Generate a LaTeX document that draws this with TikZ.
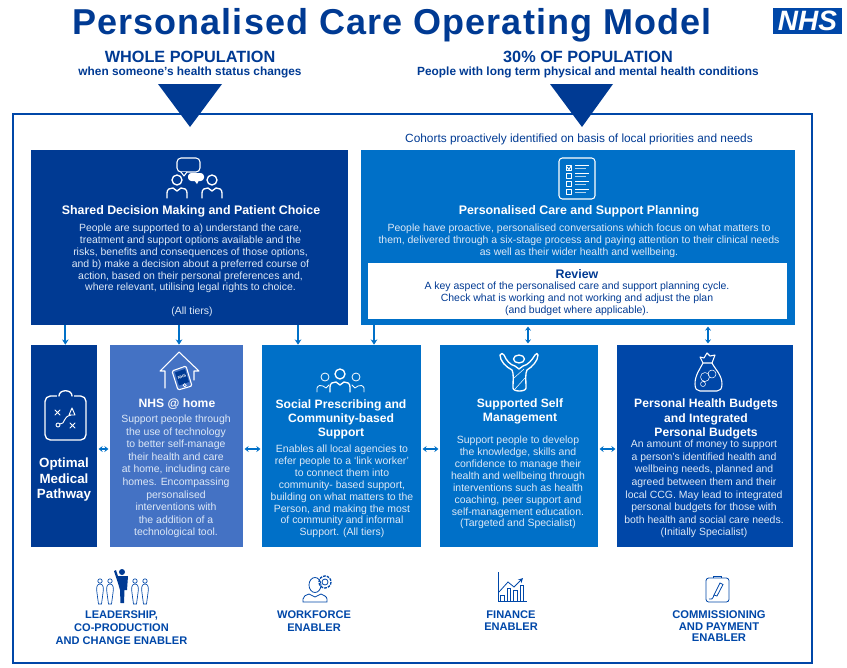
\documentclass[tikz,border=0pt]{standalone}
\usepackage{fontspec}
\setmainfont{Liberation Sans}
\usetikzlibrary{fit,arrows.meta}
\definecolor{nhsdark}{HTML}{003A93}
\definecolor{nhsmid}{HTML}{0070C8}
\definecolor{nhssoft}{HTML}{4472C4}
\definecolor{nhsdeep}{HTML}{0047A8}
\definecolor{bodyblue}{HTML}{DDE8F6}
\begin{document}
\begin{tikzpicture}[x=0.75pt, y=-0.75pt,
  tile/.style={fit={#1}, inner sep=0pt, draw=none},
  head/.style={align=center, inner sep=0pt, text=white, font=\bfseries\fontsize{9.1}{10.6}\selectfont},
  wide head/.style={head, font=\bfseries\fontsize{9.3}{10.6}\selectfont},
  copy/.style={align=center, inner sep=0pt, text=bodyblue, font=\fontsize{7.85}{8.9}\selectfont},
  loose copy/.style={copy, font=\fontsize{7.85}{9.45}\selectfont},
  enabler/.style={align=center, inner sep=0pt, text=nhsdeep, font=\bfseries\fontsize{8.3}{9.7}\selectfont},
  link/.style={draw=nhsmid, line width=1.3pt, -{Stealth[length=4pt,width=5pt]}},
  twoway/.style={draw=nhsmid, line width=1.1pt, {Stealth[length=3pt,width=4.5pt]}-{Stealth[length=3pt,width=4.5pt]},
    shorten >=1pt, shorten <=1pt},
  icon/.style={draw=white, line width=0.8pt, line join=round, line cap=round},
  person/.pic={
    \draw[pic actions] (0,0) circle (5);
    \draw[pic actions] (-10,18) -- (-10,13) .. controls (-10,9) and (-7,8) .. (-4,8)
      -- (0,11) -- (4,8) .. controls (7,8) and (10,9) .. (10,13) -- (10,18);
  },
  pillman/.pic={
    \draw[pic actions] (0,-4) circle (2.2);
    \draw[pic actions] (-3,8) .. controls (-4,2) and (-3,-1) .. (0,-1)
      .. controls (3,-1) and (4,2) .. (3,8) -- (1.5,19) -- (-1.5,19) -- cycle;
  }]
  \useasboundingbox (0,0) rectangle (847,668);

  \draw[nhsdeep, line width=1.1pt] (13,114) rectangle (812,663);
  \node[anchor=base, inner sep=0pt, text=nhsdark, font=\bfseries\fontsize{27}{30}\selectfont\addfontfeature{LetterSpace=3}] (title) at (392,34)
    {Personalised Care Operating Model};
  \node[fill=nhsdeep, text=white, inner sep=0pt, minimum width=51.75pt, minimum height=19.5pt,
    font=\bfseries\itshape\fontsize{21}{21}\selectfont] (logo) at (807.5,21) {NHS};

  \node[inner sep=0pt, text=nhsdark, font=\bfseries\fontsize{12.2}{14}\selectfont] (whole) at (190,57) {WHOLE POPULATION};
  \node[inner sep=0pt, text=nhsdark, font=\bfseries\fontsize{8.9}{10}\selectfont] (whole sub) at (190,72)
    {when someone’s health status changes};
  \node[inner sep=0pt, text=nhsdark, font=\bfseries\fontsize{12.2}{14}\selectfont] (thirty) at (588,57) {30\% OF POPULATION};
  \node[inner sep=0pt, text=nhsdark, font=\bfseries\fontsize{8.9}{10}\selectfont] (thirty sub) at (588,72)
    {People with long term physical and mental health conditions};
  \fill[nhsdark] (158,84) -- (222,84) -- (190,127) -- cycle;
  \fill[nhsdark] (550,84) -- (613,84) -- (582,127) -- cycle;
  \node[inner sep=0pt, text=nhsdark, font=\fontsize{8.9}{10}\selectfont] (cohorts) at (579,139)
    {Cohorts proactively identified on basis of local priorities and needs};

  \node[tile={(31,150) (348,325)}, fill=nhsdark] (shared) {};
  \node[tile={(361,150) (795,325)}, fill=nhsmid] (care) {};
  \node[tile={(368,263) (787,319)}, fill=white] (review) {};
  \node[tile={(31,345) (97,547)}, fill=nhsdark] (optimal) {};
  \node[tile={(110,345) (243,547)}, fill=nhssoft] (home) {};
  \node[tile={(262,345) (421,547)}, fill=nhsmid] (social) {};
  \node[tile={(440,345) (598,547)}, fill=nhsmid] (self) {};
  \node[tile={(617,345) (793,547)}, fill=nhsdeep] (budgets) {};

  \draw[link] ([xshift=1pt]optimal.north |- shared.south) -- ([xshift=1pt]optimal.north);
  \draw[link] ([xshift=1.9pt]home.north |- shared.south) -- ([xshift=1.9pt]home.north);
  \draw[link] ([xshift=-32.6pt]social.north |- shared.south) -- ([xshift=-32.6pt]social.north);
  \draw[link] ([xshift=24.4pt]social.north |- care.south) -- ([xshift=24.4pt]social.north);
  \draw[twoway] ([xshift=6.75pt]self.north |- care.south) -- ([xshift=6.75pt]self.north);
  \draw[twoway] ([xshift=2.25pt]budgets.north |- care.south) -- ([xshift=2.25pt]budgets.north);
  \draw[twoway] ([yshift=-2.25pt]optimal.east) -- ([yshift=-2.25pt]home.west);
  \draw[twoway] ([yshift=-2.25pt]home.east) -- ([yshift=-2.25pt]social.west);
  \draw[twoway] ([yshift=-2.25pt]social.east) -- ([yshift=-2.25pt]self.west);
  \draw[twoway] ([yshift=-2.25pt]self.east) -- ([yshift=-2.25pt]budgets.west);

  \node[wide head] (shared title) at (191,211) {Shared Decision Making and Patient Choice};
  \node[copy] (shared text) at (190.5,258.5) {People are supported to a) understand the care,\\
    treatment and support options available and the\\
    risks, benefits and consequences of those options,\\
    and b) make a decision about a preferred course of\\
    action, based on their personal preferences and,\\
    where relevant, utilising legal rights to choice.};
  \node[copy] (shared tiers) at (192,312) {(All tiers)};

  \node[wide head] (care title) at (579,211) {Personalised Care and Support Planning};
  \node[copy] (care text) at (579,241) {People have proactive, personalised conversations which focus on what matters to\\
    them, delivered through a six-stage process and paying attention to their clinical needs\\
    as well as their wider health and wellbeing.};
  \node[wide head, text=nhsdark] (review title) at (577,274) {Review};
  \node[copy, text=nhsdark] (review text) at (577,298.5) {A key aspect of the personalised care and support planning cycle.\\
    Check what is working and not working and adjust the plan\\
    (and budget where applicable).};

  \node[head, font=\bfseries\fontsize{10}{11.6}\selectfont] (optimal title) at (64,480) {Optimal\\Medical\\Pathway};

  \node[head] (home title) at (177,404) {NHS @ home};
  \node[loose copy] (home text) at (176,476.5) {Support people through\\
    the use of technology\\
    to better self-manage\\
    their health and care\\
    at home, including care\\
    homes. Encompassing\\
    personalised\\
    interventions with\\
    the addition of a\\
    technological tool.};

  \node[head] (social title) at (341,419) {Social Prescribing and\\Community-based\\Support};
  \node[copy] (social text) at (342,491.5) {Enables all local agencies to\\
    refer people to a ‘link worker’\\
    to connect them into\\
    community- based support,\\
    building on what matters to the\\
    Person, and making the most\\
    of community and informal\\
    Support. (All tiers)};

  \node[head] (self title) at (520,411.5) {Supported Self\\Management};
  \node[copy] (self text) at (518,482.7) {Support people to develop\\
    the knowledge, skills and\\
    confidence to manage their\\
    health and wellbeing through\\
    interventions such as health\\
    coaching, peer support and\\
    self-management education.\\
    (Targeted and Specialist)};

  \node[head] (budgets title) at (706,419) {Personal Health Budgets\\and Integrated\\Personal Budgets};
  \node[loose copy] (budgets text) at (704,489) {An amount of money to support\\
    a person’s identified health and\\
    wellbeing needs, planned and\\
    agreed between them and their\\
    local CCG. May lead to integrated\\
    personal budgets for those with\\
    both health and social care needs.\\
    (Initially Specialist)};

  \pic[icon, line width=1pt] at (177,180) {person};
  \pic[icon, line width=1pt] at (212,180) {person};
  \draw[icon, rounded corners=3pt] (177,158) rectangle (200,172);
  \draw[icon, fill=nhsdark] (181,172) -- (184,176) -- (187,172);
  \fill[white, rounded corners=2.5pt] (188,173) rectangle (204,181);
  \fill[white] (194,180) -- (197,184) -- (199,180) -- cycle;

  \draw[icon, rounded corners=2.5pt] (559,158) rectangle (595,199);
  \foreach \y in {165,173,181,189} {
    \draw[icon, line width=0.7pt] (566,\y) rectangle (571.5,\y+5);
    \draw[white, line width=0.7pt] (575,\y+0.5) -- (589,\y+0.5);
    \draw[white!70!nhsmid, line width=0.7pt] (575,\y+3) -- (586,\y+3);
  }
  \draw[white, line width=0.7pt] (567,167) -- (569,169.5) -- (571,166);

  \draw[icon, line width=1pt, rounded corners=4pt] (45,396) rectangle (86,440);
  \draw[nhsdark, line width=2pt] (57,396) -- (74,396);
  \draw[icon, line width=1pt] (59,396) .. controls (59,389) and (72,389) .. (72,396);
  \draw[icon, line width=0.7pt] (55,410) -- (60,415) (60,410) -- (55,415);
  \draw[icon, line width=0.7pt] (70,423) -- (75,428) (75,423) -- (70,428);
  \draw[icon, line width=0.7pt] (58,425) circle (2);
  \draw[icon, line width=0.7pt] (60,424) .. controls (66,424) and (62,417) .. (71,415);
  \draw[icon, line width=0.7pt] (69,415) -- (72,408) -- (75,415) -- cycle;

  \draw[icon] (165,388) -- (165,371) -- (160,371) -- (179,352) -- (199,371) -- (194,371) -- (194,380);
  \draw[icon, fill=nhssoft, rounded corners=1pt] (172,371) -- (186,366) -- (192,386) -- (178,390) -- cycle;
  \fill[nhsdark] (175,372.5) -- (185,369) -- (189,382) -- (179,385.5) -- cycle;
  \draw[white, line width=0.5pt] (184.7,385.3) circle (1.6);
  \node[inner sep=0pt, text=white, font=\bfseries\fontsize{3}{3}\selectfont, rotate=18] (phone) at (182,377) {NHS};

  \pic[icon, line width=1pt] at (340,374) {person};
  \draw[icon, line width=0.6pt] (325,377) circle (4);
  \draw[icon, line width=0.6pt] (356,377) circle (4);
  \draw[icon, line width=0.6pt] (317,392) -- (317,388) .. controls (318,385) and (321,385) .. (323,386) -- (326,388) -- (329,385);
  \draw[icon, line width=0.6pt] (364,392) -- (364,388) .. controls (363,385) and (360,385) .. (358,386) -- (355,388) -- (352,385);

  \draw[icon, line width=1pt] (519,359) ellipse (5.5 and 4);
  \draw[icon, line width=1pt] (513,388) .. controls (513,380) and (514,374) .. (512,370)
    .. controls (506,367) and (500,361) .. (500,355) .. controls (501,353) and (503,353) .. (504,355)
    .. controls (506,360) and (510,365) .. (515,366) -- (519,369) -- (523,366)
    .. controls (528,365) and (532,360) .. (535,355) .. controls (536,353) and (538,353) .. (538,355)
    .. controls (538,361) and (532,367) .. (527,370)
    .. controls (525,374) and (526,380) .. (526,388)
    .. controls (526,392) and (513,392) .. (513,388) -- cycle;
  \draw[icon, line width=0.4pt] (514,378) -- (524,369) (515,389) -- (525,378);

  \draw[icon] (703,363) -- (700,357) -- (704,358) -- (707,353) -- (710,356) -- (715,355) -- (712,363);
  \draw[icon] (703,363) -- (712,363) .. controls (715,369) and (722,375) .. (722,384)
    .. controls (722,389) and (720,391) .. (717,391) -- (700,391)
    .. controls (697,391) and (695,389) .. (695,384) .. controls (695,375) and (700,369) .. (703,363) -- cycle;
  \draw[icon, line width=0.4pt] (705,377) circle (4.5) (712,374) circle (4) (703,384) circle (2.5);

  \draw[nhsdeep, line width=0.5pt] foreach \x in {100,110,135,145} {
    (\x,585) pic {pillman}
  };
  \fill[nhsdark] (122,572) circle (3);
  \fill[nhsdark] (114,571) -- (116,570) -- (118,576) -- (128,576) -- (127,590) -- (124.5,590) -- (124,603) -- (120.5,603) -- (120,590) -- (118,583) -- cycle;

  \begin{scope}[nhsdeep, line width=0.6pt]
    \draw (315,585) ellipse (6 and 7.5);
    \draw (303,602) -- (303,599) .. controls (303,596) and (306,595) .. (309,594) -- (315,597) -- (321,594)
      .. controls (324,595) and (327,597) .. (327,599) -- (327,602) -- cycle;
    \draw[dash pattern=on 2pt off 0.8pt, line width=1pt] (325,582) circle (6);
    \draw (325,582) circle (3);
  \end{scope}

  \begin{scope}[nhsdeep, line width=0.6pt]
    \draw (498.5,572) -- (498.5,601) -- (527,601);
    \foreach \x/\y in {500.5/595,507/588,513.5/590,520/585} {
      \draw (\x,600.5) -- (\x,\y) -- (\x+3.5,\y) -- (\x+3.5,600.5);
    }
    \draw[-stealth] (499,592) -- (508,582) -- (514,587) -- (523,578);
  \end{scope}

  \begin{scope}[nhsdeep, line width=0.6pt]
    \draw[rounded corners=2pt] (706,578) rectangle (729,602);
    \draw (713,578) -- (713,576) -- (721,576) -- (721,578);
    \draw (720,583) -- (723,584.5) -- (717,596) -- (714,595) -- cycle;
    \draw (714,595) .. controls (713,599) and (711,600) .. (709,599);
  \end{scope}

  \node[enabler] (leadership) at (121.5,628) {LEADERSHIP,\\CO-PRODUCTION\\AND CHANGE ENABLER};
  \node[enabler] (workforce) at (314,621.5) {WORKFORCE\\ENABLER};
  \node[enabler, font=\bfseries\fontsize{8.3}{9}\selectfont] (finance) at (511,621) {FINANCE\\ENABLER};
  \node[enabler, font=\bfseries\fontsize{8.4}{8.6}\selectfont] (commissioning) at (719,626.5) {COMMISSIONING\\AND PAYMENT\\ENABLER};
\end{tikzpicture}
\end{document}
